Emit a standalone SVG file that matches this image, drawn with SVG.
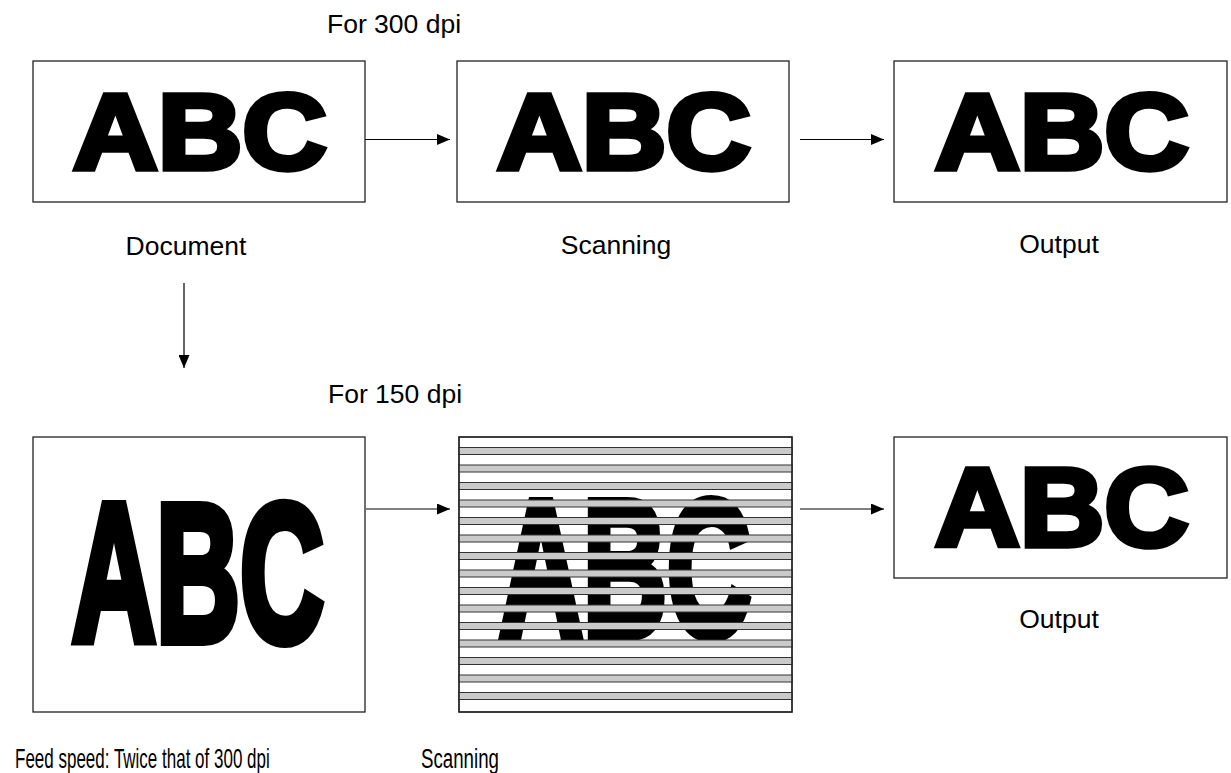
<svg xmlns="http://www.w3.org/2000/svg" width="1231" height="773" viewBox="0 0 1231 773">
<style>
.box{fill:#fff;stroke:#222;stroke-width:1.3}
.abc{font-family:"Liberation Sans",Arial,sans-serif;font-weight:bold;font-size:108px;fill:#000;stroke:#000;stroke-width:5.5;stroke-linejoin:miter}
.lbl{font-family:"Liberation Sans",Arial,sans-serif;font-size:26.5px;fill:#000}
.cond{font-family:"Liberation Sans",Arial,sans-serif;font-size:28px;fill:#000}
.band{fill:#cacaca;stroke:#333;stroke-width:1}
.conn{stroke:#000;stroke-width:1.2;fill:none;marker-end:url(#ah)}
</style>
<defs>
<marker id="ah" markerUnits="userSpaceOnUse" markerWidth="13" markerHeight="11" refX="13" refY="5.5" orient="auto">
<path d="M0,0 L13,5.5 L0,11 z" fill="#000"/>
</marker>
</defs>
<rect width="1231" height="773" fill="#fff"/>

<text class="lbl" x="327" y="33">For 300 dpi</text>
<text class="lbl" x="328" y="403">For 150 dpi</text>

<g id="doc300">
<rect class="box" x="33" y="61" width="332" height="141"/>
<text class="abc" x="73" y="169" textLength="254" lengthAdjust="spacingAndGlyphs">ABC</text>
<text class="lbl" x="186" y="255" text-anchor="middle">Document</text>
</g>

<g id="scan300">
<rect class="box" x="457" y="61" width="332" height="141"/>
<text class="abc" x="497" y="169" textLength="254" lengthAdjust="spacingAndGlyphs">ABC</text>
<text class="lbl" x="616" y="254" text-anchor="middle">Scanning</text>
</g>

<g id="out300">
<rect class="box" x="894" y="61" width="333" height="141"/>
<text class="abc" x="935" y="169" textLength="254" lengthAdjust="spacingAndGlyphs">ABC</text>
<text class="lbl" x="1059" y="253" text-anchor="middle">Output</text>
</g>

<g id="doc150">
<rect class="box" x="33" y="437" width="332" height="275"/>
<text class="abc" x="72" y="0" textLength="252" lengthAdjust="spacingAndGlyphs" transform="translate(0,641) scale(1,1.82)">ABC</text>
<text class="cond" x="0" y="0" transform="translate(15,768) scale(0.607,1)">Feed speed: Twice that of 300 dpi</text>
</g>

<g id="scan150">
<rect class="box" x="459" y="437" width="333" height="275"/>
<text class="abc" x="499" y="0" textLength="252" lengthAdjust="spacingAndGlyphs" transform="translate(0,636) scale(1,1.8)">ABC</text>
<g>
<rect class="band" x="459" y="447.5" width="333" height="7"/>
<rect class="band" x="459" y="465" width="333" height="7"/>
<rect class="band" x="459" y="482.5" width="333" height="7"/>
<rect class="band" x="459" y="500" width="333" height="7"/>
<rect class="band" x="459" y="517.5" width="333" height="7"/>
<rect class="band" x="459" y="535" width="333" height="7"/>
<rect class="band" x="459" y="552.5" width="333" height="7"/>
<rect class="band" x="459" y="570" width="333" height="7"/>
<rect class="band" x="459" y="587.5" width="333" height="7"/>
<rect class="band" x="459" y="605" width="333" height="7"/>
<rect class="band" x="459" y="622.5" width="333" height="7"/>
<rect class="band" x="459" y="640" width="333" height="7"/>
<rect class="band" x="459" y="657.5" width="333" height="7"/>
<rect class="band" x="459" y="675" width="333" height="7"/>
<rect class="band" x="459" y="692.5" width="333" height="7"/>
</g>
<rect x="459" y="437" width="333" height="275" fill="none" stroke="#222" stroke-width="1.3"/>
<text class="cond" x="0" y="0" transform="translate(421,768) scale(0.668,1)">Scanning</text>
</g>

<g id="out150">
<rect class="box" x="894" y="437" width="333" height="141"/>
<text class="abc" x="935" y="546" textLength="254" lengthAdjust="spacingAndGlyphs" style="font-size:111px">ABC</text>
<text class="lbl" x="1059" y="628" text-anchor="middle">Output</text>
</g>

<g id="connectors">
<line class="conn" x1="365" y1="139.5" x2="450" y2="139.5"/>
<line class="conn" x1="800" y1="139.5" x2="884" y2="139.5"/>
<line class="conn" x1="184" y1="283" x2="184" y2="368"/>
<line class="conn" x1="366" y1="509" x2="450" y2="509"/>
<line class="conn" x1="800" y1="509" x2="884" y2="509"/>
</g>
</svg>
